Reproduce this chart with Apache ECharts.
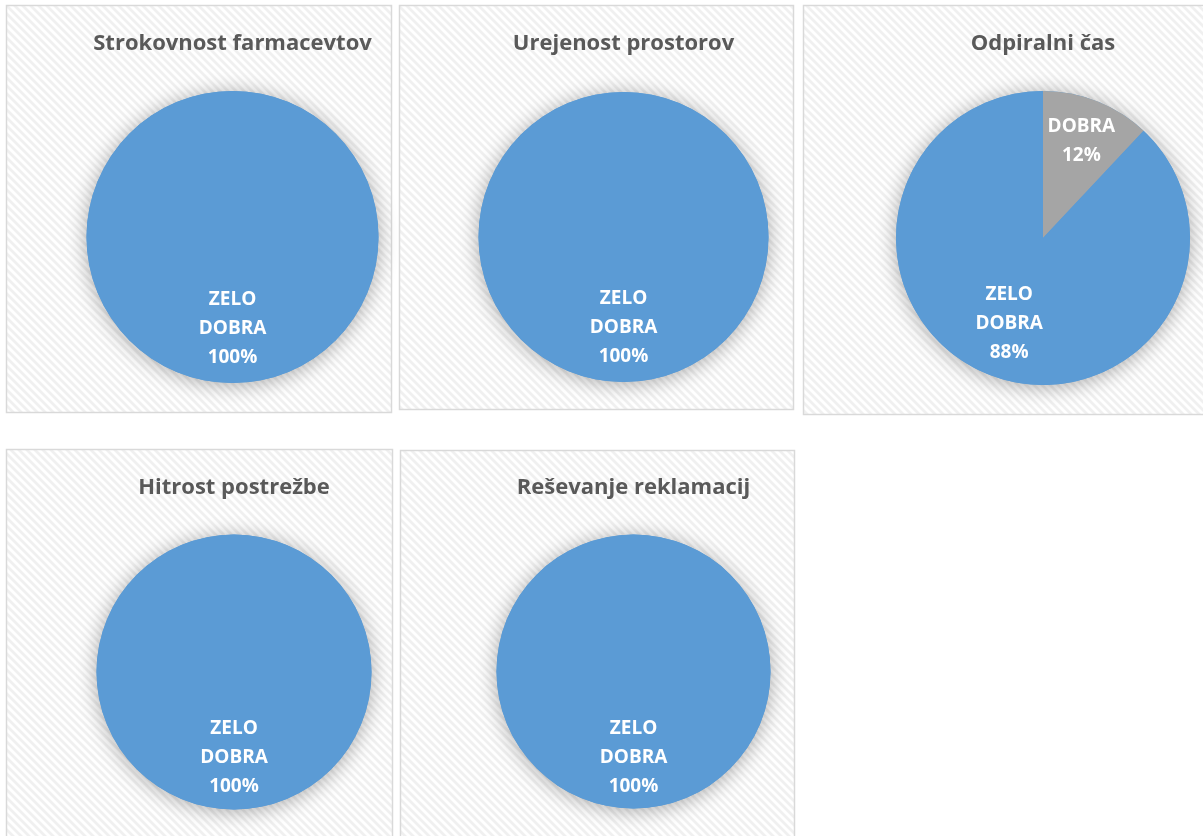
<!DOCTYPE html>
<html>
<head>
<meta charset="utf-8">
<script src="https://cdn.jsdelivr.net/npm/echarts@6/dist/echarts.min.js"></script>
<style>
html,body{margin:0;padding:0;background:#fff;}
#c{width:1203px;height:836px;}
</style>
</head>
<body>
<div id="c"></div>
<script>
// ---- data ----
const titles = ['Strokovnost farmacevtov', 'Urejenost prostorov', 'Odpiralni čas', 'Hitrost postrežbe', 'Reševanje reklamacij'];
const categories = ['DOBRA', 'ZELO DOBRA'];
const dobra = [0, 0, 12, 0, 0];
const zeloDobra = [100, 100, 88, 100, 100];

// ---- layout (positions / styles only) ----
const panels = [
  {x: 6.5, y: 5.5, w: 385, h: 407, cx: 232.5, cy: 237, r: 146, ty: 44},
  {x: 399.5, y: 5.5, w: 394, h: 404, cx: 623.5, cy: 237, r: 145, ty: 44},
  {x: 803.5, y: 5.5, w: 410, h: 409, cx: 1043, cy: 238, r: 147, ty: 44},
  {x: 6.5, y: 449.5, w: 386, h: 400, cx: 234, cy: 672, r: 137.5, ty: 488},
  {x: 400.5, y: 450.5, w: 394, h: 400, cx: 633.5, cy: 671.5, r: 137, ty: 488}
];
const colors = {'ZELO DOBRA': '#5B9BD5', 'DOBRA': '#A5A5A5'};
const labelFrac = {'ZELO DOBRA': 0.625, 'DOBRA': 0.71};
const FONT = '"Open Sans", "Noto Sans", sans-serif';

// hatch pattern
const pc = document.createElement('canvas');
pc.width = 8; pc.height = 8;
const pctx = pc.getContext('2d');
const img = pctx.createImageData(8, 8);
for (let y = 0; y < 8; y++) for (let x = 0; x < 8; x++) {
  const k = (((x - y) % 8) + 8) % 8;
  const v = k < 3 ? 240 : (k === 3 || k === 7 ? 248 : 255);
  const i = (y * 8 + x) * 4;
  img.data[i] = v; img.data[i + 1] = v; img.data[i + 2] = v; img.data[i + 3] = 255;
}
pctx.putImageData(img, 0, 0);

const chart = echarts.init(document.getElementById('c'), null, {renderer: 'canvas'});

const graphics = [];
const series = [];
panels.forEach((p, i) => {
  graphics.push({
    type: 'rect', z: -10,
    shape: {x: p.x, y: p.y, width: p.w, height: p.h},
    style: {fill: {image: pc, repeat: 'repeat'}, stroke: '#d9d9d9', lineWidth: 1.5}
  });
  graphics.push({
    type: 'text', z: 10,
    x: p.cx, y: p.ty,
    style: {
      text: titles[i], fill: '#595959',
      font: 'bold 22px ' + FONT,
      align: 'center', verticalAlign: 'middle'
    }
  });
  const vals = [dobra[i], zeloDobra[i]];
  const total = vals.reduce((a, b) => a + b, 0);
  const data = [];
  let cum = 0;
  const labelPos = [];
  categories.forEach((c, j) => {
    const v = vals[j];
    if (v > 0) {
      const mid = (cum + v / 2) / total * 2 * Math.PI;
      const f = labelFrac[c];
      labelPos.push({x: p.cx + f * p.r * Math.sin(mid), y: p.cy - f * p.r * Math.cos(mid)});
      data.push({name: c, value: v, itemStyle: {color: colors[c]}});
    }
    cum += v;
  });
  // shadow backdrop
  series.push({
    type: 'pie', silent: true, z: 1,
    center: [p.cx, p.cy], radius: p.r,
    label: {show: false}, labelLine: {show: false},
    data: [{value: total, name: ''}],
    itemStyle: {color: '#5B9BD5', shadowBlur: 20, shadowColor: 'rgba(0,0,0,0.33)', shadowOffsetX: 0, shadowOffsetY: 2},
    animation: false
  });
  series.push({
    type: 'pie', z: 2,
    center: [p.cx, p.cy], radius: p.r,
    startAngle: 90, clockwise: true,
    animation: false,
    emphasis: {disabled: true},
    itemStyle: {borderWidth: 0},
    label: {
      show: true, position: 'inside',
      color: '#ffffff',
      fontFamily: FONT,
      fontWeight: 'bold', fontSize: 19, lineHeight: 29,
      align: 'center',
      formatter: (d) => d.name.split(' ').join('\n') + '\n' + Math.round(d.percent) + '%'
    },
    labelLine: {show: false},
    labelLayout: (params) => {
      const lp = labelPos[params.dataIndex];
      return {x: lp.x, y: lp.y, align: 'center', verticalAlign: 'middle'};
    },
    data: data
  });
});

chart.setOption({
  backgroundColor: '#ffffff',
  animation: false,
  graphic: graphics,
  series: series
});
</script>
</body>
</html>
